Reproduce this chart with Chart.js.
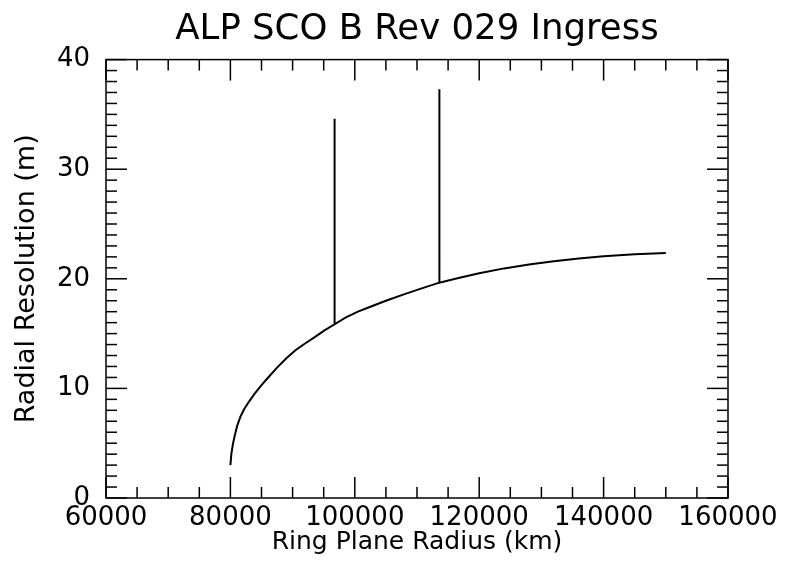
<!DOCTYPE html>
<html lang="en">
<head>
  <meta charset="UTF-8" />
  <title>ALP SCO B Rev 029 Ingress</title>
  <script src="https://cdn.jsdelivr.net/npm/chart.js"></script>
  <style>
    html, body { margin: 0; padding: 0; background: #fff; }
    #wrap { width: 788px; height: 562px; }
  </style>
</head>
<body>
  <div id="wrap"><canvas id="grafico"></canvas></div>

  <script>
    // values (the two spikes repeat their x value)
    const radiusKm = [
      80000, 80150, 80400, 80700, 81100, 81600, 82200, 83000, 84000,
      85000, 86000, 87500, 89000, 90500, 92000, 93500, 95000,
      96750, 96750, 96750,
      98500, 100500, 102500, 105000, 108000, 111000,
      113600, 113600, 113600,
      116500, 120000, 124000, 128000, 132000, 136000, 140000, 145000, 150000
    ];
    const radialResM = [
      3.0, 4.0, 4.9, 5.7, 6.6, 7.4, 8.1, 8.8, 9.6,
      10.3, 10.95, 11.9, 12.75, 13.5, 14.1, 14.65, 15.25,
      15.85, 34.6, 15.85,
      16.45, 17.0, 17.45, 18.0, 18.6, 19.17,
      19.65, 37.3, 19.65,
      20.05, 20.5, 20.95, 21.3, 21.6, 21.85, 22.05, 22.25, 22.35
    ];
    const xTicks = [60000, 80000, 100000, 120000, 140000, 160000];
    const yTicks = [0, 10, 20, 30, 40];
    const xMinorStep = 5000;
    const yMinorStep = 1;

    const fuente = 'DejaVu Sans';

    // frame with inward major/minor ticks on all four sides
    const marcoTicks = {
      id: 'marcoTicks',
      afterDraw(chart) {
        const { ctx, chartArea: a, scales: { x, y } } = chart;
        ctx.save();
        ctx.strokeStyle = '#000';
        ctx.lineWidth = 1.5;
        const seg = (x1, y1, x2, y2) => {
          ctx.beginPath(); ctx.moveTo(x1, y1); ctx.lineTo(x2, y2); ctx.stroke();
        };
        for (let v = x.min; v <= x.max; v += xMinorStep) {
          const px = x.getPixelForValue(v);
          const len = xTicks.includes(v) ? 21 : 11;
          seg(px, a.bottom, px, a.bottom - len);
          seg(px, a.top, px, a.top + len);
        }
        for (let v = y.min; v <= y.max; v += yMinorStep) {
          const py = y.getPixelForValue(v);
          const len = yTicks.includes(v) ? 21 : 11;
          seg(a.left, py, a.left + len, py);
          seg(a.right, py, a.right - len, py);
        }
        ctx.strokeRect(a.left, a.top, a.right - a.left, a.bottom - a.top);
        ctx.restore();
      }
    };

    new Chart(document.getElementById('grafico'), {
      type: 'scatter',
      data: {
        datasets: [{
          data: radiusKm.map((r, i) => ({ x: r, y: radialResM[i] })),
          showLine: true,
          borderColor: '#000',
          borderWidth: 2,
          pointRadius: 0,
          tension: 0
        }]
      },
      options: {
        responsive: true,
        maintainAspectRatio: false,
        animation: false,
        layout: { padding: { left: 0, right: 60, top: 0, bottom: 0 } },
        plugins: {
          legend: { display: false },
          tooltip: { enabled: false },
          title: {
            display: true,
            fullSize: false,
            text: 'ALP SCO B Rev 029 Ingress',
            color: '#000',
            font: { family: fuente, size: 35.5, weight: 'normal', lineHeight: 1.2 },
            padding: { top: 8, bottom: 9 }
          }
        },
        scales: {
          x: {
            type: 'linear',
            min: 60000,
            max: 160000,
            afterFit: s => { s.height = 64; },
            afterBuildTicks: s => { s.ticks = xTicks.map(v => ({ value: v })); },
            grid: { display: false, drawTicks: false },
            border: { display: false },
            ticks: {
              color: '#000',
              padding: 5,
              maxRotation: 0,
              font: { family: fuente, size: 26 },
              callback: v => String(v)
            },
            title: {
              display: true,
              text: 'Ring Plane Radius (km)',
              color: '#000',
              font: { family: fuente, size: 25 },
              padding: { top: 0, bottom: 5 }
            }
          },
          y: {
            min: 0,
            max: 40,
            afterFit: s => { s.width = 106; },
            afterBuildTicks: s => { s.ticks = yTicks.map(v => ({ value: v })); },
            grid: { display: false, drawTicks: false },
            border: { display: false },
            ticks: {
              color: '#000',
              padding: 16,
              font: { family: fuente, size: 26 },
              callback: v => String(v)
            },
            title: {
              display: true,
              text: 'Radial Resolution (m)',
              color: '#000',
              font: { family: fuente, size: 27 },
              padding: { top: 11, bottom: 0 }
            }
          }
        }
      },
      plugins: [marcoTicks]
    });
  </script>
</body>
</html>
